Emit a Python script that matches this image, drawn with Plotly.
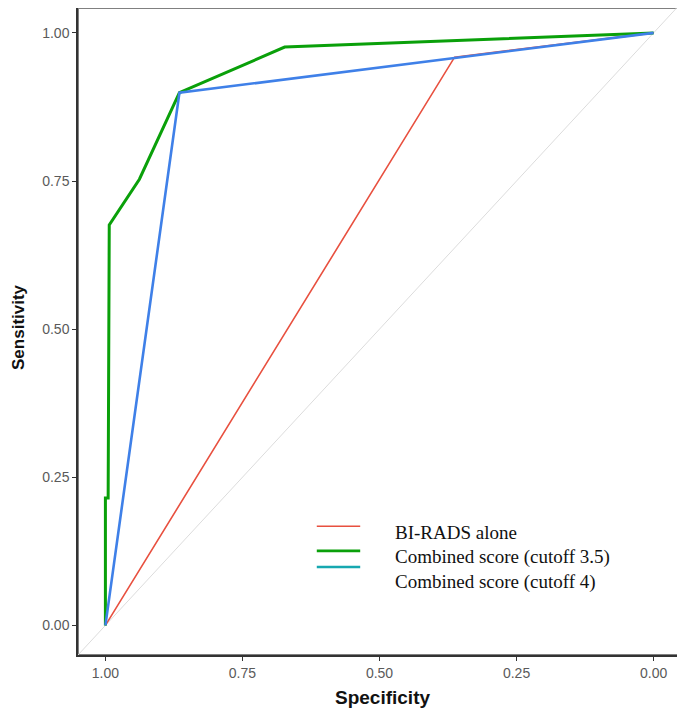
import plotly.graph_objects as go

# ROC curves (specificity on a reversed x axis)
birads_spec = [1.0, 0.363, 0.0]
birads_sens = [0.0, 0.959, 1.0]

comb35_spec = [1.0, 1.0, 0.995, 0.993, 0.938, 0.865, 0.673, 0.0]
comb35_sens = [0.0, 0.215, 0.215, 0.676, 0.753, 0.899, 0.976, 1.0]

comb4_spec = [1.0, 0.865, 0.0]
comb4_sens = [0.0, 0.899, 1.0]

diag_spec = [1.05, -0.05]
diag_sens = [-0.05, 1.05]

legend_names = ["BI-RADS alone", "Combined score (cutoff 3.5)", "Combined score (cutoff 4)"]
legend_colors = ["#e8503f", "#0aa00a", "#17a8b0"]
legend_widths = [1.6, 2.6, 2.6]

tick_vals = [0.0, 0.25, 0.5, 0.75, 1.0]
tick_text = ["0.00", "0.25", "0.50", "0.75", "1.00"]

fig = go.Figure()

fig.add_trace(go.Scatter(x=diag_spec, y=diag_sens, mode="lines",
                         line=dict(color="#dcdcdc", width=1), hoverinfo="skip"))
fig.add_trace(go.Scatter(x=birads_spec, y=birads_sens, mode="lines", name=legend_names[0],
                         line=dict(color="#e8503f", width=1.6)))
fig.add_trace(go.Scatter(x=comb35_spec, y=comb35_sens, mode="lines", name=legend_names[1],
                         line=dict(color="#0aa00a", width=3)))
fig.add_trace(go.Scatter(x=comb4_spec, y=comb4_sens, mode="lines", name=legend_names[2],
                         line=dict(color="#3f80e8", width=2.6)))

# panel border: grey box, darker axis lines on left/bottom
fig.add_shape(type="rect", xref="paper", yref="paper", x0=0, y0=0, x1=1, y1=1,
              line=dict(color="#808080", width=2), layer="below")

# hand-drawn legend (key for cutoff 4 is teal in the original, and sits a bit high)
swatch_y = [0.199, 0.161, 0.136]
text_y = [0.190, 0.151, 0.113]
for name, col, w, sy, ty in zip(legend_names, legend_colors, legend_widths, swatch_y, text_y):
    fig.add_shape(type="line", xref="paper", yref="paper", x0=0.396, x1=0.468, y0=sy, y1=sy,
                  line=dict(color=col, width=w))
    fig.add_annotation(text=name, xref="paper", yref="paper", x=0.522, y=ty,
                       xanchor="left", yanchor="middle", showarrow=False,
                       font=dict(family="Liberation Serif, Times New Roman", size=19, color="#111111"))

axis_common = dict(
    showgrid=False, zeroline=False, showline=True, linecolor="#333333", linewidth=1.5,
    ticks="outside", ticklen=4, tickwidth=1.2, tickcolor="#333333",
    tickvals=tick_vals, ticktext=tick_text, automargin=False,
    tickfont=dict(family="Arial, Liberation Sans", size=14, color="#5a5a5a"),
)
fig.update_xaxes(range=[1.05, -0.05], **axis_common)
fig.update_yaxes(range=[-0.05, 1.042], **axis_common)

fig.add_annotation(text="<b>Specificity</b>", xref="paper", yref="paper", x=0.505, y=0,
                   yanchor="middle", yshift=-42, showarrow=False,
                   font=dict(family="Arial, Liberation Sans", size=19, color="#111111"))
fig.add_annotation(text="<b>Sensitivity</b>", xref="paper", yref="paper", x=0, y=0.507,
                   xanchor="center", xshift=-59, textangle=-90, showarrow=False,
                   font=dict(family="Arial, Liberation Sans", size=17, color="#111111"))

# page body has an 8px margin, so size the figure to the visible area
fig.update_layout(
    width=677, height=706,
    margin=dict(l=70, r=4, t=0, b=59),
    plot_bgcolor="white", paper_bgcolor="white",
    showlegend=False,
)

fig.write_html("out.html")
